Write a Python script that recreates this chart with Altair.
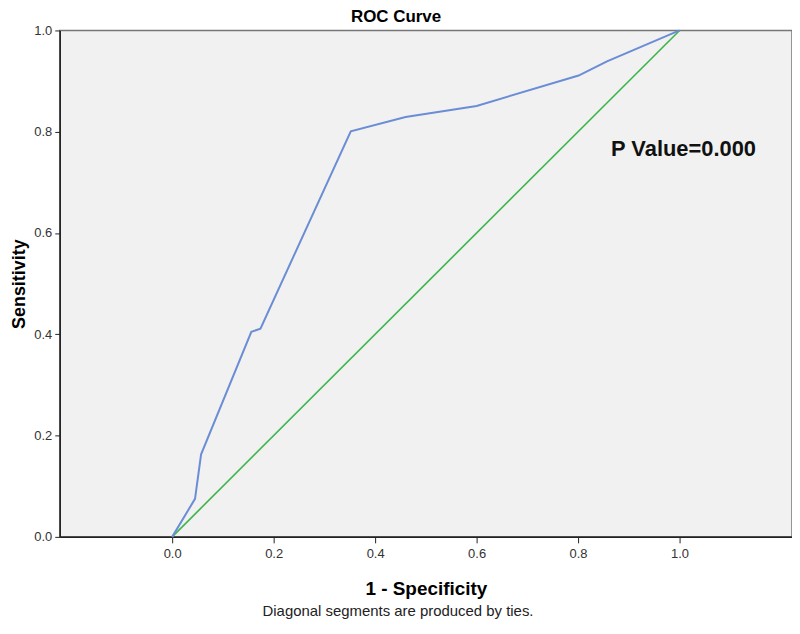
import altair as alt
import pandas as pd

# ROC curve points (1 - specificity, sensitivity)
fpr = [0.0, 0.045, 0.057, 0.156, 0.174, 0.352, 0.46, 0.60, 0.801, 0.857, 1.0]
tpr = [0.0, 0.075, 0.163, 0.405, 0.411, 0.801, 0.829, 0.851, 0.911, 0.939, 1.0]

ref_x = [0.0, 1.0]
ref_y = [0.0, 1.0]

ticks = [0.0, 0.2, 0.4, 0.6, 0.8, 1.0]
annot_text = ["P Value=0.000"]
annot_x = [0.865]
annot_y = [0.765]

roc = pd.DataFrame({"x": fpr, "y": tpr, "o": list(range(len(fpr)))})
ref = pd.DataFrame({"x": ref_x, "y": ref_y})
ann = pd.DataFrame({"x": annot_x, "y": annot_y, "t": annot_text})

xscale = alt.Scale(domain=[-0.2216, 1.2216], nice=False, zero=False)
yscale = alt.Scale(domain=[0, 1], nice=False)

xaxis = alt.Axis(values=ticks, format=".1f", title="1 - Specificity", grid=False,
                 titleFontSize=19, titleFontWeight="bold", titleColor="#000",
                 titlePadding=19, labelFontSize=13, labelColor="#333",
                 tickSize=6, tickColor="#222", domainColor="#222", domainWidth=1.5,
                 labelPadding=5, titleFont="Liberation Sans", labelFont="Liberation Sans")
yaxis = alt.Axis(values=ticks, format=".1f", title="Sensitivity", grid=False,
                 titleFontSize=18, titleFontWeight="bold", titleColor="#000",
                 titlePadding=5, labelFontSize=13, labelColor="#333",
                 tickSize=5, tickColor="#222", domainColor="#222", domainWidth=1.5,
                 labelPadding=3, titleFont="Liberation Sans", labelFont="Liberation Sans")

line = alt.Chart(roc).mark_line(color="#6a8dd6", strokeWidth=2).encode(
    x=alt.X("x:Q", scale=xscale, axis=xaxis),
    y=alt.Y("y:Q", scale=yscale, axis=yaxis),
    order="o:Q",
)

diag = alt.Chart(ref).mark_line(color="#3db54a", strokeWidth=1.6).encode(
    x=alt.X("x:Q", scale=xscale),
    y=alt.Y("y:Q", scale=yscale),
)

text = alt.Chart(ann).mark_text(align="left", baseline="middle", fontSize=22, fontWeight="bold",
                                font="Liberation Sans", color="#111").encode(
    x=alt.X("x:Q", scale=xscale),
    y=alt.Y("y:Q", scale=yscale),
    text="t:N",
)

foot = alt.Chart(pd.DataFrame({"t": ["Diagonal segments are produced by ties."]})).mark_text(
    align="center", baseline="middle", fontSize=15, font="Liberation Sans", color="#222"
).encode(x=alt.value(340), y=alt.value(584), text="t:N")

chart = alt.layer(diag, line, text, foot).properties(
    width=736,
    height=509,
    title=alt.TitleParams("ROC Curve", anchor="middle", dx=-30, dy=2, offset=0,
                          fontSize=17, fontWeight="bold", font="Liberation Sans", color="#000"),
    autosize=alt.AutoSizeParams(type="none"),
    padding={"left": 52, "top": 21, "right": 0, "bottom": 83},
).configure(
    background="white",
    view=alt.ViewConfig(fill="#f1f1f1", stroke="#777", strokeWidth=1.5),
)

chart.save("out.html", embed_options={"renderer": "svg", "actions": False})
